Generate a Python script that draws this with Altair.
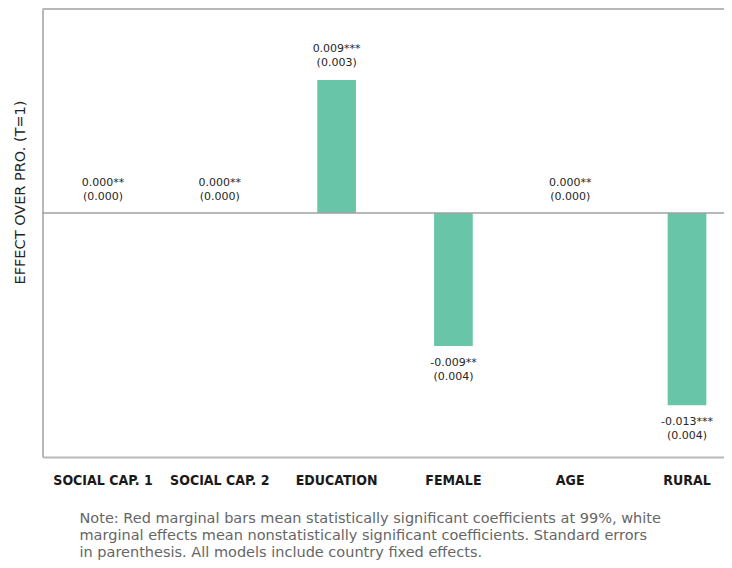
import altair as alt
import pandas as pd

categories = ["SOCIAL CAP. 1", "SOCIAL CAP. 2", "EDUCATION", "FEMALE", "AGE", "RURAL"]
values = [0.0, 0.0, 0.009, -0.009, 0.0, -0.013]
coef_labels = ["0.000**", "0.000**", "0.009***", "-0.009**", "0.000**", "-0.013***"]
se_labels = ["(0.000)", "(0.000)", "(0.003)", "(0.004)", "(0.000)", "(0.004)"]
note_lines = [
    "Note: Red marginal bars mean statistically significant coefficients at 99%, white",
    "marginal effects mean nonstatistically significant coefficients. Standard errors",
    "in parenthesis. All models include country fixed effects.",
]
y_title = "EFFECT OVER PRO. (T=1)"

df = pd.DataFrame({"category": categories, "value": values,
                   "coef": coef_labels, "se": se_labels})

y_min, y_max = -0.0165, 0.0138
frame_color = "#b8b8b8"

x_enc = alt.X(
    "category:N", sort=categories, title=None,
    scale=alt.Scale(paddingInner=0.669, paddingOuter=0.252, align=0.70),
    axis=alt.Axis(labelAngle=0, ticks=False, tickSize=0, domain=True,
                  domainColor=frame_color, domainWidth=2,
                  labelPadding=16,
                  labelFont="Liberation Sans Narrow, DejaVu Sans Condensed, Roboto",
                  labelFontSize=14, labelFontWeight="bold", labelColor="#1a1a1a"),
)
y_enc = alt.Y(
    "value:Q",
    scale=alt.Scale(domain=[y_min, y_max], nice=False, zero=False),
    axis=alt.Axis(title=y_title, labels=False, ticks=False, domain=True, grid=False,
                  domainColor=frame_color, domainWidth=2,
                  titleFont="DejaVu Sans", titleFontSize=14.5, titleFontWeight="normal",
                  titleColor="#222222", titleAngle=-90, titleX=-22, titleY=183,
                  titleAlign="center", titleBaseline="middle"),
)

base = alt.Chart(df)

bars = base.mark_bar(color="#69C5A8").encode(x=x_enc, y=y_enc, y2=alt.datum(0))

lines_df = pd.DataFrame({"z": [0.0, y_max], "w": [1.5, 2.0], "c": ["#a0a0a0", frame_color]})
frame_rules = alt.Chart(lines_df).mark_rule().encode(
    y=alt.Y("z:Q"),
    strokeWidth=alt.StrokeWidth("w:Q", scale=None),
    color=alt.Color("c:N", scale=None),
)

text_style = dict(baseline="middle", fontSize=11, font="DejaVu Sans", color="#262626")

pos = base.transform_filter(alt.datum.value >= 0)
neg = base.transform_filter(alt.datum.value < 0)

pos_coef = pos.mark_text(dy=-30.5, **text_style).encode(x=x_enc, y=y_enc, text="coef:N")
pos_se = pos.mark_text(dy=-16.5, **text_style).encode(x=x_enc, y=y_enc, text="se:N")
neg_coef = neg.mark_text(dy=16.5, **text_style).encode(x=x_enc, y=y_enc, text="coef:N")
neg_se = neg.mark_text(dy=31, **text_style).encode(x=x_enc, y=y_enc, text="se:N")

chart = alt.layer(bars, frame_rules, pos_coef, pos_se, neg_coef, neg_se).properties(
    width=681.5, height=448,
    autosize="none",
    padding={"left": 34.5, "top": 1, "right": 0, "bottom": 103},
    title=alt.TitleParams(text=note_lines, orient="bottom", anchor="start",
                          frame="group", dx=37, offset=25, fontSize=14.5,
                          font="DejaVu Sans", fontWeight="normal",
                          color="#666666", lineHeight=17),
).configure_view(stroke=None)

chart.save("out.html", embed_options={"renderer": "svg", "actions": False})
